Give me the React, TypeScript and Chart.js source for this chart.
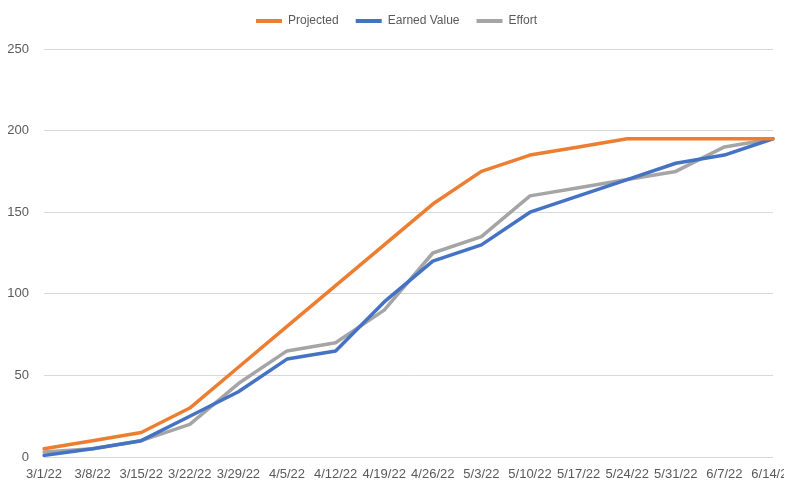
import React, { useEffect, useRef } from "react";
import { Chart, registerables } from "chart.js";

Chart.register(...registerables);

const labels = ["3/1/22", "3/8/22", "3/15/22", "3/22/22", "3/29/22", "4/5/22", "4/12/22", "4/19/22", "4/26/22", "5/3/22", "5/10/22", "5/17/22", "5/24/22", "5/31/22", "6/7/22", "6/14/22"];
const projected = [5, 10, 15, 30, 55, 80, 105, 130, 155, 175, 185, 190, 195, 195, 195, 195];
const earnedValue = [1, 5, 10, 25, 40, 60, 65, 95, 120, 130, 150, 160, 170, 180, 185, 195];
const effort = [3, 5, 10, 20, 45, 65, 70, 90, 125, 135, 160, 165, 170, 175, 190, 195];
const yTicks = [0, 50, 100, 150, 200, 250];

const FONT = "'Liberation Sans', Arial, sans-serif";
const TEXT = "#595959";

const legendSpacer = {
  id: "legendSpacer",
  beforeLayout(chart: any) {
    const lg = chart.legend;
    if (lg && !lg._patched) {
      lg._patched = true;
      const origFit = lg.fit;
      lg.fit = function (...args: any[]) {
        origFit.apply(this, args);
        this.height = 49;
      };
      const origDraw = lg.draw;
      lg.draw = function (...args: any[]) {
        const ctx = this.ctx;
        ctx.save();
        ctx.translate(10, -2);
        origDraw.apply(this, args);
        ctx.restore();
      };
    }
  },
};

export default function App() {
  const ref = useRef<HTMLCanvasElement>(null);
  useEffect(() => {
    if (!ref.current) return;
    const mk = (label: string, data: number[], color: string) => ({
      label,
      data,
      borderColor: color,
      backgroundColor: color,
      borderWidth: 3.5,
      borderJoinStyle: "round" as const,
      borderCapStyle: "round" as const,
      pointRadius: 0,
      tension: 0,
      fill: false,
    });
    const chart = new Chart(ref.current, {
      type: "line",
      data: {
        labels,
        datasets: [
          mk("Projected", projected, "#ED7D31"),
          mk("Earned Value", earnedValue, "#4472C4"),
          mk("Effort", effort, "#A5A5A5"),
        ],
      },
      plugins: [legendSpacer],
      options: {
        animation: false,
        responsive: false,
        maintainAspectRatio: false,
        layout: { padding: { left: 0, right: 19, top: 0, bottom: 0 } },
        plugins: {
          legend: {
            position: "top",
            labels: {
              boxWidth: 26,
              boxHeight: 4,
              padding: 17,
              color: TEXT,
              font: { family: FONT, size: 12 },
              generateLabels: (c: any) =>
                c.data.datasets.map((d: any, i: number) => ({
                  text: d.label,
                  fillStyle: d.borderColor,
                  strokeStyle: d.borderColor,
                  lineWidth: 0,
                  hidden: false,
                  datasetIndex: i,
                  fontColor: TEXT,
                })),
            },
          },
          tooltip: { enabled: false },
        },
        scales: {
          x: {
            offset: false,
            grid: { display: false },
            border: { display: false },
            afterFit: (s: any) => {
              s.height = 35;
              s.paddingRight = 0;
              s.paddingLeft = 0;
            },
            ticks: {
              color: TEXT,
              font: { family: FONT, size: 13 },
              maxRotation: 0,
              minRotation: 0,
              autoSkip: false,
              padding: 2,
            },
          },
          y: {
            min: 0,
            max: 250,
            afterFit: (s: any) => {
              s.width = 44;
            },
            afterBuildTicks: (s: any) => {
              s.ticks = yTicks.map((v) => ({ value: v }));
            },
            ticks: {
              color: TEXT,
              font: { family: FONT, size: 13 },
              padding: 15,
            },
            grid: { color: "#D9D9D9", drawTicks: false },
            border: { display: false },
          },
        },
      },
    });
    return () => chart.destroy();
  }, []);
  return (
    <canvas
      ref={ref}
      width={792}
      height={492}
      style={{ display: "block", margin: "-8px" }}
    />
  );
}
